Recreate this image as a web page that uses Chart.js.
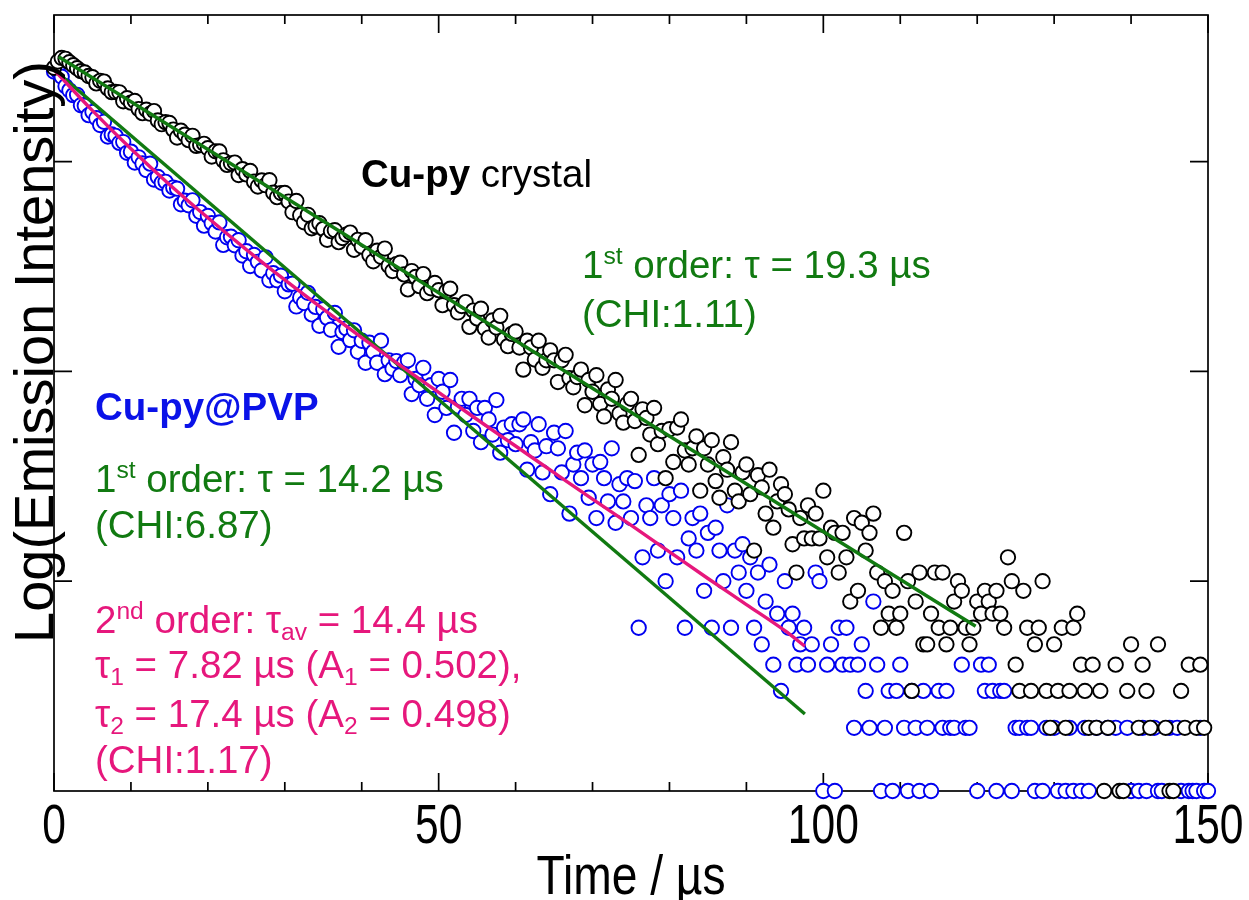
<!DOCTYPE html>
<html>
<head>
<meta charset="utf-8">
<script src="https://cdn.jsdelivr.net/npm/chart.js@4.4.1/dist/chart.umd.min.js"></script>
<style>
  html, body { margin: 0; padding: 0; background: #fff; }
</style>
</head>
<body>
<canvas id="chartDecay" width="1249" height="900"></canvas>
<script>
// channel width of the decay histogram, µs
const timeStep = 0.5;

// Cu-py crystal, counts per channel from t = 0 to 150 µs (null = empty channel)
const crystalCounts = [
  2800, 3000, 3120, 3090, 2980, 2880, 2790, 2700, 2660, 2560,
  2526, 2360, 2427, 2408, 2233, 2143, 2147, 2141, 1938, 2005,
  1911, 1946, 1781, 1702, 1767, 1692, 1742, 1571, 1508, 1542,
  1529, 1421, 1303, 1404, 1345, 1266, 1328, 1189, 1199, 1216,
  1158, 1058, 1120, 1119, 1014, 965, 982, 990, 863, 921,
  869, 903, 803, 761, 814, 772, 815, 711, 677, 708,
  709, 645, 574, 649, 555, 514, 558, 481, 492, 509,
  478, 424, 466, 471, 413, 432, 449, 459, 380, 424,
  394, 422, 359, 335, 376, 352, 385, 319, 301, 325,
  330, 290, 246, 301, 282, 255, 291, 236, 249, 264,
  244, 207, 241, 248, 207, 191, 205, 214, 163, 195,
  179, 199, 160, 145, 175, 162, 184, 142, 132, 151,
  155, 130, 102, 140, 130, 114, 140, 104, 113, 126,
  113, 89, 113, 120, 93, 84, 94, 102, 69, 91,
  80, 96, 70, 61, 82, 74, 91, 63, 57, 70,
  74, 58, 40, 66, 60, 50, 67, 45, 52, 31,
  53, 37, 54, 59, 42, 36, 43, 49, 27, 43,
  36, 47, 30, 25, 39, 34, 46, 27, 24, 33,
  36, 26, 14, 32, 28, 21, 34, 18, 24, 29,
  26, 22, 15, 11, 20, 16, 23, 16, 21, 16,
  27, 13, 18, 17, 11, 17, 13, 8, 20, 9,
  19, 14, 17, 21, 11, 6, 10, 7, 9, 6,
  7, 17, 10, 3, 8, 11, 5, 5, 7, 11,
  6, 11, 5, 6, 8, 10, 9, 6, 5, 6,
  8, 7, 9, 8, 7, 9, 7, 6, 13, 10,
  4, 3, 9, 6, 3, 5, 6, 10, 3, 2,
  5, 3, 6, 2, 3, 6, 7, 4, 3, 2,
  4, 2, 3, 1, 2, null, 4, 1, 1, 3,
  5, null, 2, 4, 3, 2, null, 5, null, 2,
  1, 1, null, 3, 2, 4, null, 2, 4, 2,
  null
];

// Cu-py@PVP, counts per channel from t = 0 to 150 µs
const pvpCounts = [
  2690, 2700, 2540, 2290, 2187, 2075, 2081, 1857, 1846, 1665,
  1723, 1610, 1494, 1548, 1317, 1348, 1327, 1228, 1240, 1102,
  1116, 990, 1049, 980, 912, 978, 822, 845, 793, 801,
  728, 752, 743, 626, 651, 619, 654, 552, 575, 495,
  551, 509, 464, 513, 401, 436, 439, 399, 422, 357,
  374, 318, 359, 333, 303, 350, 272, 294, 272, 286,
  241, 260, 262, 204, 225, 212, 237, 187, 203, 165,
  198, 180, 158, 190, 131, 154, 160, 141, 157, 124,
  140, 110, 137, 124, 110, 140, 97, 113, 103, 112,
  96, 110, 113, 78, 92, 86, 104, 74, 86, 62,
  92, 80, 67, 91, 51, 68, 74, 62, 74, 52,
  67, 46, 67, 59, 50, 73, 41, 54, 47, 56,
  45, 56, 59, 34, 46, 42, 56, 33, 44, 26,
  51, 43, 33, 52, 21, 36, 41, 31, 42, 25,
  36, 20, 37, 31, 24, 43, 19, 29, 24, 31,
  20, 30, 6, 13, 23, 20, 31, 14, 23, 10,
  26, 20, 13, 27, 6, 16, 20, 14, 21, 9,
  17, 6, 18, 14, 10, 23, 6, 14, 11, 15,
  9, 13, 6, 11, 5, 8, 12, 4, 7, 3,
  10, 6, 7, 4, 5, 6, 4, 5, 11, 10,
  1, 4, 5, 1, 6, 4, 6, 4, 2, 4,
  5, 3, 2, 8, 4, 1, 2, 3, 1, 3,
  4, 2, 1, 3, 2, 1, 3, 2, 1, null,
  3, 2, 3, 2, 2, null, 4, 2, 2, null,
  1, 4, 3, 4, 3, 1, 3, 3, null, 1,
  2, 2, null, 2, 2, 1, null, 1, 2, null,
  2, 1, null, 1, 2, 1, null, 1, 2, 1,
  null, 2, null, null, 2, null, 2, null, null, 2,
  1, null, 1, 2, 1, null, 2, 1, 1, null,
  2, null, 2, 1, null, 1, 1, 1, 2, 1,
  1
];

// fitted curves
const crystalFitTime = [0.6, 119.8];
const crystalFitCounts = [3160, 6.1];
const pvpFit1Time = [0, 97.6];
const pvpFit1Counts = [2750, 2.33];
const pvpFit2Time = [0, 5, 10, 15, 20, 25, 30, 35, 40, 45, 50, 55, 60, 65, 70, 75, 80, 85, 90, 95, 97.6];
const pvpFit2Counts = [2742, 1750, 1151, 778, 540, 381, 273, 198, 145, 107, 79.4, 59.0, 44.1, 32.9, 24.6, 18.5, 13.8, 10.3, 7.74, 5.81, 4.9];

// axis ticks
const xLabelTicks = [0, 50, 100, 150];
const xSmallTicks = [10, 20, 30, 40, 60, 70, 80, 90, 110, 120, 130, 140];
const yDecadeTicks = [10, 100, 1000];

const GREEN = '#117a11';
const PINK = '#e6177c';
const BLUE = '#0a12e8';
const FONT = '"Liberation Sans", Arial, sans-serif';

function toPoints(counts) {
  const pts = [];
  counts.forEach((v, i) => {
    if (v !== null) pts.push({ x: i * timeStep, y: v });
  });
  return pts;
}

function pairUp(ts, vs) {
  return ts.map((t, i) => ({ x: t, y: vs[i] }));
}

// axes box + inward ticks
const framePlugin = {
  id: 'frame',
  beforeDatasetsDraw(chart) {
    const { ctx, chartArea: a, scales } = chart;
    const x = scales.x, y = scales.y;
    ctx.save();
    ctx.strokeStyle = '#000';
    ctx.lineWidth = 1.7;
    ctx.strokeRect(a.left, a.top, a.right - a.left, a.bottom - a.top);
    ctx.beginPath();
    xSmallTicks.forEach(v => {
      const px = x.getPixelForValue(v);
      ctx.moveTo(px, a.bottom); ctx.lineTo(px, a.bottom - 9);
      ctx.moveTo(px, a.top); ctx.lineTo(px, a.top + 9);
    });
    xLabelTicks.forEach(v => {
      const px = x.getPixelForValue(v);
      ctx.moveTo(px, a.bottom); ctx.lineTo(px, a.bottom - 18);
      ctx.moveTo(px, a.top); ctx.lineTo(px, a.top + 18);
    });
    yDecadeTicks.forEach(v => {
      const py = y.getPixelForValue(v);
      ctx.moveTo(a.left, py); ctx.lineTo(a.left + 18, py);
      ctx.moveTo(a.right, py); ctx.lineTo(a.right - 18, py);
    });
    ctx.stroke();
    ctx.restore();
  }
};

function squeezed(ctx, text, x, y, sx) {
  ctx.save();
  ctx.translate(x, y);
  ctx.scale(sx, 1);
  ctx.fillText(text, 0, 0);
  ctx.restore();
}

function drawRich(ctx, parts, x, y, size, color) {
  let cx = x;
  ctx.fillStyle = color;
  ctx.textAlign = 'left';
  ctx.textBaseline = 'alphabetic';
  parts.forEach(p => {
    const small = p.sup || p.sub;
    const s = small ? size * 0.64 : size;
    ctx.font = (p.bold ? 'bold ' : '') + s + 'px ' + FONT;
    const dy = p.sup ? -size * 0.36 : (p.sub ? size * 0.17 : 0);
    ctx.fillText(p.t, cx, y + dy);
    cx += ctx.measureText(p.t).width;
  });
}

const textPlugin = {
  id: 'texts',
  afterDraw(chart) {
    const { ctx, chartArea: a, scales } = chart;
    ctx.save();
    ctx.fillStyle = '#000';
    ctx.textBaseline = 'alphabetic';
    ctx.textAlign = 'center';
    ctx.font = '56px ' + FONT;
    xLabelTicks.forEach(v => {
      squeezed(ctx, String(v), scales.x.getPixelForValue(v), 843, 0.76);
    });
    ctx.font = '55px ' + FONT;
    squeezed(ctx, 'Time / µs', (a.left + a.right) / 2, 894, 0.84);

    ctx.save();
    ctx.translate(53, 352);
    ctx.rotate(-Math.PI / 2);
    ctx.font = '56px ' + FONT;
    squeezed(ctx, 'Log(Emission Intensity)', 0, 0, 1.0);
    ctx.restore();

    const size = 38.5;
    drawRich(ctx, [{ t: 'Cu-py', bold: true }, { t: ' crystal' }], 361, 187, size, '#000');
    drawRich(ctx, [{ t: '1' }, { t: 'st', sup: true }, { t: ' order: τ = 19.3 µs' }], 582, 278, size, GREEN);
    drawRich(ctx, [{ t: '(CHI:1.11)' }], 582, 327, size, GREEN);

    drawRich(ctx, [{ t: 'Cu-py@PVP', bold: true }], 95, 420, size, BLUE);
    drawRich(ctx, [{ t: '1' }, { t: 'st', sup: true }, { t: ' order: τ = 14.2 µs' }], 95, 492, size, GREEN);
    drawRich(ctx, [{ t: '(CHI:6.87)' }], 95, 538, size, GREEN);

    drawRich(ctx, [{ t: '2' }, { t: 'nd', sup: true }, { t: ' order: τ' }, { t: 'av', sub: true }, { t: ' = 14.4 µs' }], 95, 633, size, PINK);
    drawRich(ctx, [{ t: 'τ' }, { t: '1', sub: true }, { t: ' = 7.82 µs (A' }, { t: '1', sub: true }, { t: ' = 0.502),' }], 95, 678, size, PINK);
    drawRich(ctx, [{ t: 'τ' }, { t: '2', sub: true }, { t: ' = 17.4 µs (A' }, { t: '2', sub: true }, { t: ' = 0.498)' }], 95, 727, size, PINK);
    drawRich(ctx, [{ t: '(CHI:1.17)' }], 95, 773, size, PINK);
    ctx.restore();
  }
};

const ctxDecay = document.getElementById('chartDecay');
const chartDecay = new Chart(ctxDecay, {
  type: 'scatter',
  data: {
    datasets: [
      {
        label: 'crystal fit',
        type: 'line',
        data: pairUp(crystalFitTime, crystalFitCounts),
        borderColor: GREEN,
        borderWidth: 3.4,
        pointRadius: 0,
        tension: 0,
        order: 1
      },
      {
        label: 'PVP 1st order',
        type: 'line',
        data: pairUp(pvpFit1Time, pvpFit1Counts),
        borderColor: GREEN,
        borderWidth: 3.4,
        pointRadius: 0,
        tension: 0,
        order: 2
      },
      {
        label: 'PVP 2nd order',
        type: 'line',
        data: pairUp(pvpFit2Time, pvpFit2Counts),
        borderColor: PINK,
        borderWidth: 3.4,
        pointRadius: 0,
        cubicInterpolationMode: 'monotone',
        order: 0
      },
      {
        label: 'Cu-py crystal',
        data: toPoints(crystalCounts),
        borderColor: '#000',
        backgroundColor: '#fff',
        borderWidth: 1.9,
        pointRadius: 7.2,
        clip: false,
        order: 3
      },
      {
        label: 'Cu-py@PVP',
        data: toPoints(pvpCounts),
        borderColor: '#0000f0',
        backgroundColor: '#fff',
        borderWidth: 1.9,
        pointRadius: 7.2,
        clip: false,
        order: 4
      }
    ]
  },
  options: {
    responsive: false,
    animation: false,
    layout: { padding: { left: 54, right: 41, top: 15, bottom: 109 } },
    plugins: {
      legend: { display: false },
      tooltip: { enabled: false },
      title: { display: false }
    },
    scales: {
      x: { type: 'linear', min: 0, max: 150, display: false },
      y: { type: 'logarithmic', min: 1, max: 5000, display: false }
    }
  },
  plugins: [framePlugin, textPlugin]
});
</script>
</body>
</html>
